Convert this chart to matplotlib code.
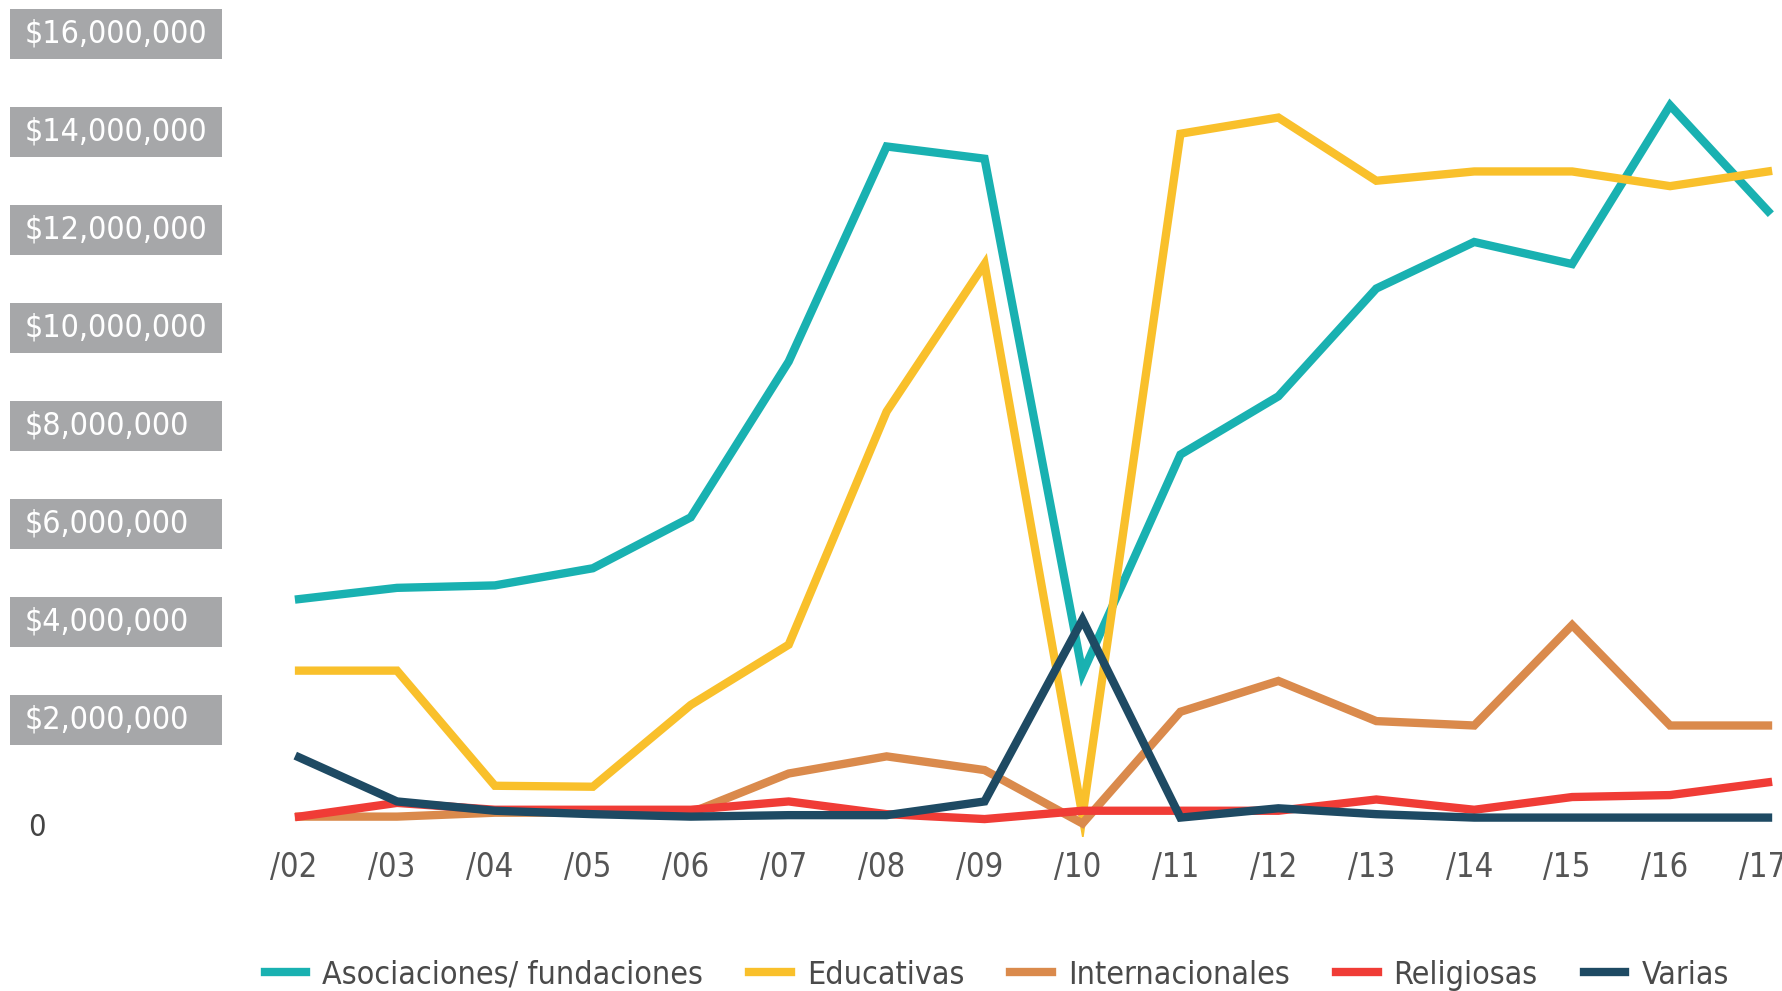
import matplotlib
matplotlib.use("Agg")
import matplotlib.pyplot as plt
from matplotlib.patches import Rectangle
from matplotlib.transforms import blended_transform_factory, ScaledTranslation

plt.rcParams['font.family'] = ['DejaVu Sans']
plt.rcParams['font.stretch'] = 'condensed'

# data (millions of pesos)
years = ['/02', '/03', '/04', '/05', '/06', '/07', '/08', '/09', '/10', '/11', '/12', '/13', '/14', '/15', '/16', '/17']
asociaciones = [4.46, 4.69, 4.74, 5.09, 6.13, 9.31, 13.7, 13.45, 2.95, 7.41, 8.6, 10.8, 11.75, 11.3, 14.54, 12.38]
educativas = [3.0, 3.0, 0.65, 0.63, 2.3, 3.53, 8.29, 11.3, 0.03, 13.96, 14.29, 13.0, 13.19, 13.19, 12.89, 13.19]
internacionales = [0.02, 0.02, 0.1, 0.1, 0.1, 0.9, 1.25, 0.97, -0.12, 2.16, 2.79, 1.97, 1.88, 3.93, 1.88, 1.88]
religiosas = [0.02, 0.3, 0.16, 0.16, 0.16, 0.33, 0.07, -0.03, 0.14, 0.14, 0.14, 0.37, 0.16, 0.42, 0.46, 0.72]
varias = [1.23, 0.33, 0.14, 0.07, 0.02, 0.05, 0.05, 0.33, 4.04, 0.0, 0.19, 0.07, 0.0, 0.0, 0.0, 0.0]

series = [('Asociaciones/ fundaciones', asociaciones, '#19b1b1'),
          ('Educativas', educativas, '#f9c02b'),
          ('Internacionales', internacionales, '#da8a4c'),
          ('Religiosas', religiosas, '#f03c36'),
          ('Varias', varias, '#1e4a63')]

yticks = [2, 4, 6, 8, 10, 12, 14, 16]
ytick_labels = ['$2,000,000', '$4,000,000', '$6,000,000', '$8,000,000',
                '$10,000,000', '$12,000,000', '$14,000,000', '$16,000,000']

fig = plt.figure(figsize=(17.83, 9.91), dpi=100)
ax = fig.add_axes([0.1279, 0.1552, 0.8721, 0.8448])
x = list(range(len(years)))

# dotted grid
for v in yticks:
    ax.axhline(v, color='#c4c4c4', linewidth=3.5, dashes=(0, 4), dash_capstyle='round', zorder=0)

for name, vals, col in series:
    ax.plot(x, vals, color=col, linewidth=6, label=name, solid_joinstyle='miter', zorder=2)

ax.set_xlim(-0.725, 15.153)
ax.set_ylim(-0.4, 16.69)
ax.set_xticks(x)
ax.set_xticklabels(years, fontsize=23.5, color='#555555')
ax.tick_params(axis='x', length=0, pad=10)
shift = ScaledTranslation(-5 / 100, 0, fig.dpi_scale_trans)
for lbl in ax.get_xticklabels():
    lbl.set_transform(lbl.get_transform() + shift)
ax.set_yticks([])
for s in ax.spines.values():
    s.set_visible(False)

# gray boxed y labels
trans = blended_transform_factory(fig.transFigure, ax.transData)
for v, lab in zip(yticks, ytick_labels):
    ax.add_patch(Rectangle((0.0056, v - 0.51), 0.119, 1.02, transform=trans,
                           facecolor='#a6a7a9', edgecolor='none', clip_on=False))
    ax.text(0.014, v, lab, transform=trans, color='white', fontsize=23,
            ha='left', va='center', clip_on=False)
ax.text(0.016, -0.2, '0', transform=trans, color='#444444', fontsize=22,
        ha='left', va='center', clip_on=False)

fig.legend(loc='center', bbox_to_anchor=(0.559, 0.016), ncol=5, frameon=False,
           fontsize=23, handlelength=1.3, handletextpad=0.5, columnspacing=1.45,
           labelcolor='#4a4a4a')

fig.savefig('out.png', dpi=100)
